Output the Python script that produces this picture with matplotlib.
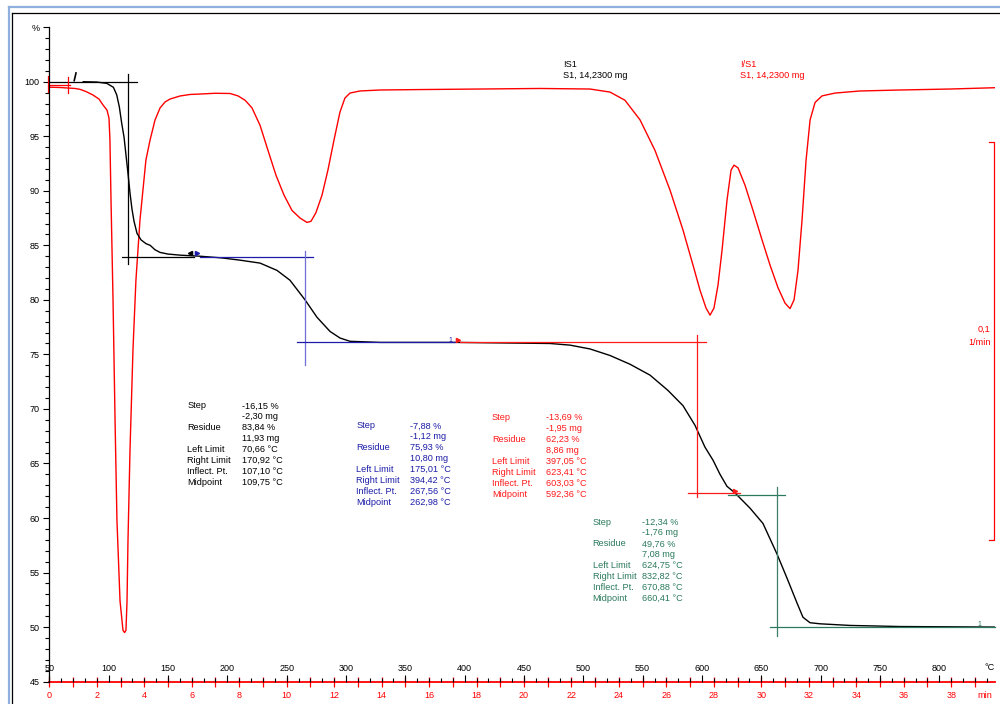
import matplotlib
matplotlib.use("Agg")
import matplotlib.pyplot as plt
from matplotlib.lines import Line2D
from matplotlib.ticker import MultipleLocator, FixedLocator
import numpy as np

plt.rcParams['font.family'] = ['Liberation Sans', 'DejaVu Sans']

# TGA curve: temperature (degC) vs mass (%)
tga_temp = [78.6, 89.9, 98.4, 104.0, 106.8, 109.0, 111.0, 113.0, 114.6, 116.3, 118.0,
            119.7, 121.4, 123.9, 127.3, 131.5, 135.0, 139.0, 143.3, 150.0, 160.0, 177.0,
            195.0, 210.7, 227.6, 241.9, 252.8, 265.5, 275.6, 286.6, 295.0, 303.4, 328.7,
            391.9, 472.0, 488.8, 505.6, 522.5, 539.3, 556.2, 571.3, 584.0, 594.1, 602.5,
            609.3, 615.2, 621.1, 627.8, 640.5, 651.4, 663.2, 671.6, 680.1, 685.1, 691.0,
            699.5, 724.8, 767.0, 847.0]
tga_mass = [100.0, 99.97, 99.85, 99.49, 98.8, 97.7, 96.2, 94.9, 93.3, 91.6, 89.8,
            88.3, 87.2, 86.1, 85.5, 85.15, 85.0, 84.6, 84.35, 84.2, 84.1, 84.0,
            83.85, 83.64, 83.37, 82.7, 81.8, 80.0, 78.4, 77.1, 76.5, 76.2, 76.1,
            76.1, 76.0, 75.85, 75.5, 74.9, 74.1, 73.1, 71.7, 70.3, 68.5, 66.5,
            65.3, 64.0, 62.9, 62.3, 60.9, 59.5, 56.7, 54.5, 52.2, 50.9, 50.4,
            50.3, 50.15, 50.05, 50.0]

# DTG curve, drawn on the % scale (0,1 1/min bracket on the right)
dtg_temp = [50.0, 59.0, 65.8, 71.7, 75.9, 80.9, 86.8, 91.9, 95.3, 98.6, 100.3, 101.1,
            102.0, 103.7, 105.4, 107.0, 109.6, 112.1, 113.4, 114.6, 115.5, 116.3, 118.0,
            120.5, 123.0, 126.4, 131.4, 134.9, 139.1, 143.3, 147.5, 151.7, 160.1, 168.6,
            177.0, 189.7, 202.3, 209.0, 215.0, 220.8, 227.6, 234.3, 241.1, 247.8, 254.5,
            261.3, 267.1, 270.5, 274.7, 279.8, 284.8, 289.9, 294.9, 299.1, 303.4, 311.8,
            328.7, 362.4, 413.0, 463.5, 505.6, 522.5, 535.1, 547.8, 560.4, 573.1, 584.0,
            592.4, 598.3, 603.4, 606.8, 610.1, 613.5, 616.9, 621.1, 624.5, 627.0, 630.4,
            636.3, 643.0, 650.6, 657.3, 664.1, 670.0, 674.2, 677.6, 680.9, 684.3, 687.7,
            691.1, 695.3, 701.2, 712.2, 733.2, 766.9, 809.1, 847.0]
dtg_value = [99.5, 99.47, 99.42, 99.38, 99.3, 99.1, 98.78, 98.41, 97.86, 97.4, 96.67, 94.65,
             89.15, 80.0, 69.0, 59.8, 52.4, 49.7, 49.5, 49.7, 52.4, 57.9, 66.2,
             75.4, 81.8, 87.3, 92.8, 94.65, 96.49, 97.59, 98.14, 98.41, 98.69, 98.83,
             98.87, 98.94, 98.92, 98.7, 98.3, 97.6, 96.0, 93.7, 91.4, 89.6, 88.2,
             87.5, 87.1, 87.2, 88.0, 89.6, 91.9, 94.65, 97.2, 98.5, 98.96, 99.15,
             99.24, 99.28, 99.33, 99.38, 99.33, 99.05, 98.3, 96.5, 93.7, 90.05, 86.4,
             83.2, 80.9, 79.25, 78.6, 79.25, 81.35, 84.55, 89.15, 91.9, 92.35, 92.1,
             90.5, 88.2, 85.5, 83.2, 81.1, 79.7, 79.2, 80.0, 82.7, 87.3, 92.8,
             96.5, 98.1, 98.7, 98.96, 99.15, 99.24, 99.33, 99.45]

# step evaluations
step_colors = ['black', '#1c1ca8', '#ff1a1a', '#2a7a5c']
step_vline_colors = ['black', '#6f6fd6', '#ff1a1a', '#3f7f6a']
step_upper = [(100.0, 50, 124), (83.9, 177, 272), (76.1, 396, 603.6), (62.1, 622, 670)]
step_vert = [(116.7, 100.7, 83.3), (265.5, 84.5, 74.0), (595.8, 76.8, 61.9), (663.0, 62.8, 49.2)]
step_lower = [(83.9, 111, 172), (76.1, 259, 392), (62.3, 588, 632), (50.0, 657, 847)]

step_pct = [-16.15, -7.88, -13.69, -12.34]
step_mg = [-2.30, -1.12, -1.95, -1.76]
residue_pct = [83.84, 75.93, 62.23, 49.76]
residue_mg = [11.93, 10.80, 8.86, 7.08]
left_limit = [70.66, 175.01, 397.05, 624.75]
right_limit = [170.92, 394.42, 623.41, 832.82]
inflect_pt = [107.10, 267.56, 603.03, 670.88]
midpoint = [109.75, 262.98, 592.36, 660.41]
row_names = ['Step', '', 'Residue', '', 'Left Limit', 'Right Limit', 'Inflect. Pt.', 'Midpoint']
# text block anchors (label column T, value column T, first row %)
block_pos = [(166.2, 212.1, 70.27), (308.5, 354.0, 68.44), (423.0, 468.3, 69.2), (507.9, 549.2, 59.63)]

# little limit markers at the step junctions: (T, %, marker, colour)
junction_marks = [(168.2, 84.3, '<', 'black'), (174.5, 84.3, '>', '#1c1ca8'),
                  (394.5, 76.3, '>', '#ff1a1a'), (628.0, 62.5, '>', '#ff1a1a')]


def fmt(v, unit):
    return ('%.2f' % v).replace('.', ',') + ' ' + unit


fig = plt.figure(figsize=(10, 7.04), dpi=100)
ax = fig.add_axes([0.0493, 0.0318, 0.9458, 0.9296])
ax.set_xlim(50, 847)
ax.set_ylim(45, 105)

ax.plot(dtg_temp, dtg_value, color='#ff0000', lw=1.0)
ax.plot(tga_temp, tga_mass, color='black', lw=1.0)

for i in range(4):
    y, x0, x1 = step_upper[i]
    ax.plot([x0, x1], [y, y], color=step_colors[i], lw=0.9)
    x, y0, y1 = step_vert[i]
    ax.plot([x, x], [y0, y1], color=step_vline_colors[i], lw=0.9)
    y, x0, x1 = step_lower[i]
    ax.plot([x0, x1], [y, y], color=step_colors[i], lw=0.9, clip_on=False)

    vals = [fmt(step_pct[i], '%'), fmt(step_mg[i], 'mg'), fmt(residue_pct[i], '%'),
            fmt(residue_mg[i], 'mg'), fmt(left_limit[i], '°C'), fmt(right_limit[i], '°C'),
            fmt(inflect_pt[i], '°C'), fmt(midpoint[i], '°C')]
    lx, vx, y0 = block_pos[i]
    for r in range(8):
        ax.text(lx, y0 - r, row_names[r], color=step_colors[i], fontsize=6.6, va='center')
        ax.text(vx, y0 - r, vals[r], color=step_colors[i], fontsize=6.6, va='center')

for x, y, m, c in junction_marks:
    ax.plot([x], [y], marker=m, color=c, ms=3, ls='none')
ax.text(389.5, 76.25, '1', fontsize=5, color='#1c1ca8', ha='right', va='center')
ax.text(834.0, 50.25, '1', fontsize=5, color='#2a7a5c', ha='center', va='center')
ax.plot([71.0, 72.5], [100.1, 100.8], color='black', lw=1.2)

# start markers
ax.plot([50, 67.4], [99.7, 99.7], color='#ff0000', lw=0.9)
ax.plot([49.3, 49.3], [100.5, 99.1], color='#ff0000', lw=0.9, clip_on=False)
ax.plot([65.8, 65.8], [100.4, 99.0], color='#ff0000', lw=0.9)

# curve titles
ax.text(482.9, 101.6, '!S1', fontsize=6.6, va='center')
ax.text(482.9, 100.6, 'S1, 14,2300 mg', fontsize=6.6, va='center')
ax.text(632.0, 101.6, '!/S1', fontsize=6.6, va='center', color='#ff0000')
ax.text(632.0, 100.6, 'S1, 14,2300 mg', fontsize=6.6, va='center', color='#ff0000')

# DTG scale bracket
ax.plot([841.9, 846.1, 846.1, 841.9], [94.5, 94.5, 58.0, 58.0], color='#ff0000', lw=0.9, clip_on=False)
ax.text(843.0, 77.3, '0,1', fontsize=6.6, color='#ff0000', ha='right', va='center')
ax.text(843.0, 76.1, '1/min', fontsize=6.6, color='#ff0000', ha='right', va='center')

# axes styling
for s in ['top', 'right', 'bottom']:
    ax.spines[s].set_visible(False)
ax.spines['left'].set_linewidth(0.9)

ax.set_yticks(np.arange(45, 106, 5))
ax.set_yticklabels([str(v) for v in range(45, 101, 5)] + ['%'])
ax.yaxis.set_minor_locator(MultipleLocator(1))
ax.tick_params(axis='y', which='major', direction='out', length=4, width=0.8, pad=3, labelsize=6.5)
ax.tick_params(axis='y', which='minor', direction='out', length=3, width=0.8)

ax.xaxis.set_major_locator(FixedLocator(np.arange(50, 801, 50)))
ax.xaxis.set_minor_locator(FixedLocator(np.arange(60, 841, 10)))
ax.tick_params(axis='x', which='major', direction='in', length=5, width=0.8, pad=-13, labelsize=6.5)
ax.tick_params(axis='x', which='minor', direction='in', length=3, width=0.8)

secax = ax.secondary_xaxis('bottom', functions=(lambda T: (T - 50) / 20.0, lambda t: t * 20.0 + 50))
secax.xaxis.set_major_locator(FixedLocator(np.arange(0, 39, 2)))
secax.xaxis.set_minor_locator(FixedLocator(np.arange(1, 40, 2)))
secax.spines['bottom'].set_color('#ff0000')
secax.spines['bottom'].set_linewidth(1.3)
secax.tick_params(which='both', direction='inout', length=7, width=0.9, color='#ff0000',
                  labelcolor='#ff0000', labelsize=6.5, pad=3)

fig.text(0.990, 1 - 668 / 704, '°C', fontsize=6.6, ha='center', va='center')
fig.text(0.985, 1 - 695 / 704, 'min', fontsize=6.6, ha='center', va='center', color='#ff0000')

# window frame
fig.add_artist(Line2D([0.009, 0.009], [0, 1 - 7 / 704], color='#8fb0dc', lw=1.6))
fig.add_artist(Line2D([0.009, 1.0], [1 - 7 / 704, 1 - 7 / 704], color='#8fb0dc', lw=1.6))
fig.add_artist(Line2D([0.0115, 0.0115], [0, 1 - 12.5 / 704], color='black', lw=0.9))
fig.add_artist(Line2D([0.0115, 1.0], [1 - 12.5 / 704, 1 - 12.5 / 704], color='black', lw=0.9))

plt.savefig('out.png', dpi=100)
